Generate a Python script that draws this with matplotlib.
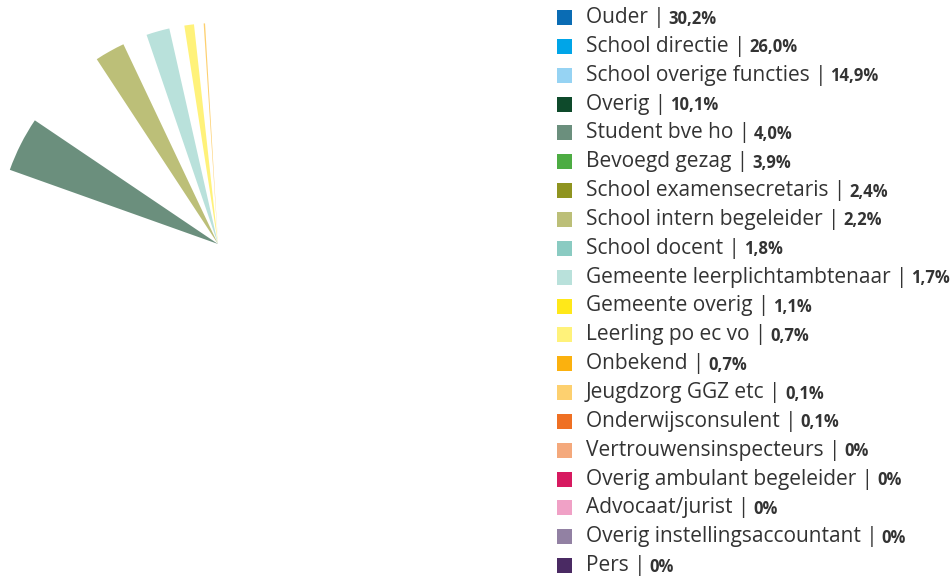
import matplotlib
matplotlib.use("Agg")
import matplotlib.pyplot as plt
from matplotlib.patches import Rectangle

# legend / slice data
labels = ["Ouder", "School directie", "School overige functies", "Overig",
          "Student bve ho", "Bevoegd gezag", "School examensecretaris",
          "School intern begeleider", "School docent",
          "Gemeente leerplichtambtenaar", "Gemeente overig", "Leerling po ec vo",
          "Onbekend", "Jeugdzorg GGZ etc", "Onderwijsconsulent",
          "Vertrouwensinspecteurs", "Overig ambulant begeleider",
          "Advocaat/jurist", "Overig instellingsaccountant", "Pers"]
values = [30.2, 26.0, 14.9, 10.1, 4.0, 3.9, 2.4, 2.2, 1.8, 1.7, 1.1, 0.7,
          0.7, 0.1, 0.1, 0, 0, 0, 0, 0]
pct_labels = ["30,2%", "26,0%", "14,9%", "10,1%", "4,0%", "3,9%", "2,4%",
              "2,2%", "1,8%", "1,7%", "1,1%", "0,7%", "0,7%", "0,1%", "0,1%",
              "0%", "0%", "0%", "0%", "0%"]
colors = ["#0a6cb4", "#00a5e8", "#96d3f3", "#0e4a2b", "#6b8f7d", "#4dac43",
          "#8f9420", "#bcbf78", "#8acbc2", "#b9e1db", "#ffe819", "#fff27a",
          "#fbb10e", "#fdd06f", "#ef7023", "#f4a97c", "#d71a60", "#f0a1c6",
          "#9281a3", "#4a2a63"]
# slices that are drawn in the snapshot
shown = ["Student bve ho", "School intern begeleider",
         "Gemeente leerplichtambtenaar", "Leerling po ec vo", "Jeugdzorg GGZ etc"]

W, H = 953, 576
fig = plt.figure(figsize=(W / 100, H / 100), dpi=100)

# pie: centre (218, 244) px, radius 221 px
cx, cy, r = 218, 244, 221
ax = fig.add_axes([(cx - r) / W, (H - cy - r) / H, 2 * r / W, 2 * r / H])
wedges, _ = ax.pie(values, colors=colors, startangle=93, counterclock=False,
                   radius=1, wedgeprops=dict(linewidth=0))
for w, lab in zip(wedges, labels):
    if lab not in shown:
        w.set_visible(False)
ax.set_xlim(-1, 1)
ax.set_ylim(-1, 1)
ax.axis("off")

# legend drawn by hand (normal label + bold percentage)
fig.canvas.draw()
renderer = fig.canvas.get_renderer()
y0, step = 17.5, 28.85
for i, (lab, pct, col) in enumerate(zip(labels, pct_labels, colors)):
    y = y0 + i * step
    fig.patches.append(Rectangle((557 / W, 1 - (y + 7.5) / H), 15 / W, 15 / H,
                                 transform=fig.transFigure, facecolor=col,
                                 edgecolor="none"))
    t = fig.text(586 / W, 1 - y / H, lab + " |", fontsize=15,
                 family="Open Sans", color="#333333", va="center", ha="left")
    bb = t.get_window_extent(renderer)
    fig.text((bb.x1 + 4) / W, 1 - (y + 1) / H, pct, fontsize=12,
             family="Open Sans", fontweight="bold", color="#333333",
             va="center", ha="left")

fig.savefig("out.png", dpi=100, facecolor="white")
